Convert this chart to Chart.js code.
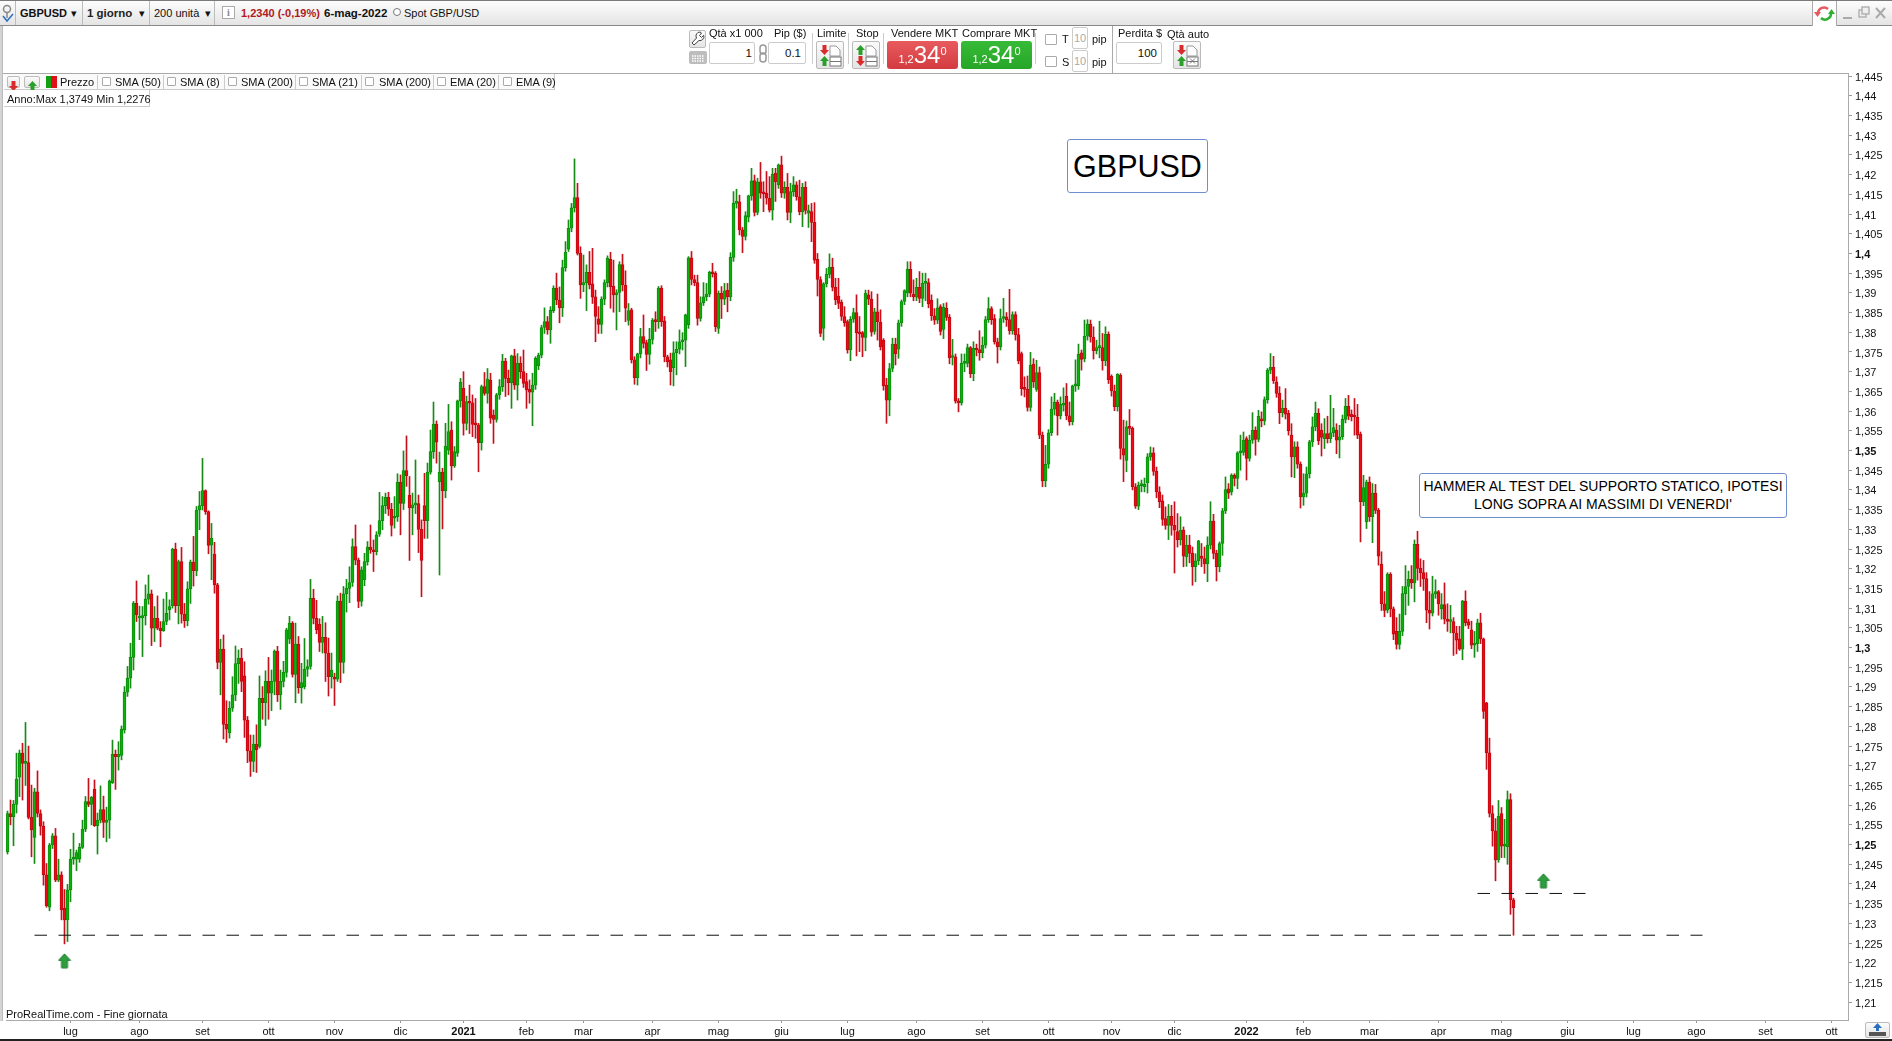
<!DOCTYPE html>
<html lang="it">
<head>
<meta charset="utf-8">
<title>GBPUSD</title>
<script src="https://cdn.jsdelivr.net/npm/chart.js@4"></script>
<style>
html,body{margin:0;padding:0;width:1892px;height:1041px;overflow:hidden;background:#fff;font-family:"Liberation Sans",Arial,sans-serif;color:#111}
#c{position:absolute;left:0;top:0;display:block}
#ui{position:absolute;left:0;top:0;width:1892px;height:1041px;pointer-events:none}
.a{position:absolute;box-sizing:border-box;white-space:nowrap}
.t{font-size:11px;line-height:14px;transform:translateY(-50%)}
.box{background:#fff;border:1px solid #ccc;border-radius:2px}
.btn{background:linear-gradient(#fbfbfb,#e4e4e4);border:1px solid #bbb;border-radius:2px}
.cb{background:#fff;border:1px solid #aaa;border-radius:1px}
.note{background:#fff;border:1px solid #6f8fd0;border-radius:3px;color:#000;text-align:center}
</style>
</head>
<body>
<canvas id="c" width="1892" height="1041"></canvas>
<div id="ui"></div>
<script>
const opens = [
1.2482,1.2579,1.2571,1.2602,1.2671,1.2732,1.2706,1.2708,1.2569,1.2518,
1.2634,1.2579,1.2547,1.2423,1.2341,1.2499,1.2522,1.2410,1.2423,1.2338,
1.2309,1.2385,1.2463,1.2463,1.2463,1.2493,1.2539,1.2609,1.2602,1.2641,
1.2548,1.2562,1.2589,1.2556,1.2562,1.2657,1.2729,1.2723,1.2726,1.2791,
1.2887,1.2922,1.2975,1.3112,1.3075,1.3075,1.3081,1.3123,1.3136,1.3049,
1.3074,1.3049,1.3043,1.3066,1.3096,1.3106,1.3250,1.3106,1.3218,1.3085,
1.3068,1.3149,1.3217,1.3195,1.3349,1.3360,1.3398,1.3345,1.3260,1.3237,
1.3159,1.2962,1.2996,1.2805,1.2784,1.2846,1.2880,1.2959,1.2973,1.2928,
1.2816,1.2738,1.2711,1.2755,1.2749,1.2871,1.2860,1.2914,1.2884,1.2914,
1.2991,1.2880,1.2914,1.2937,1.3021,1.3062,1.2932,1.3009,1.2898,1.2901,
1.2945,1.2952,1.3125,1.3074,1.3059,1.3013,1.3026,1.2986,1.2926,1.2923,
1.2920,1.3118,1.2962,1.3136,1.3150,1.3165,1.3256,1.3222,1.3117,1.3172,
1.3218,1.3255,1.3248,1.3243,1.3288,1.3322,1.3360,1.3381,1.3351,1.3328,
1.3332,1.3419,1.3366,1.3449,1.3386,1.3354,1.3362,1.3365,1.3300,1.3360,
1.3322,1.3445,1.3497,1.3567,1.3421,1.3445,1.3398,1.3501,1.3552,1.3461,
1.3493,1.3626,1.3658,1.3569,1.3624,1.3621,1.3568,1.3565,1.3520,1.3662,
1.3645,1.3679,1.3590,1.3579,1.3641,1.3662,1.3727,1.3683,1.3672,1.3740,
1.3666,1.3721,1.3700,1.3675,1.3655,1.3648,1.3666,1.3715,1.3742,1.3812,
1.3827,1.3806,1.3855,1.3912,1.3882,1.3862,1.3964,1.4011,1.4064,1.4116,
1.4142,1.4000,1.3920,1.3926,1.3952,1.3923,1.3890,1.3834,1.3820,1.3884,
1.3926,1.3985,1.3917,1.3895,1.3901,1.3972,1.3920,1.3830,1.3857,1.3730,
1.3685,1.3745,1.3789,1.3774,1.3744,1.3782,1.3831,1.3827,1.3912,1.3829,
1.3738,1.3730,1.3710,1.3748,1.3757,1.3776,1.3780,1.3819,1.3989,1.3934,
1.3926,1.3835,1.3875,1.3890,1.3897,1.3952,1.3950,1.3810,1.3899,1.3884,
1.3907,1.3890,1.3990,1.4127,1.4131,1.4060,1.4043,1.4092,1.4146,1.4185,
1.4104,1.4182,1.4154,1.4153,1.4140,1.4110,1.4203,1.4174,1.4225,1.4153,
1.4168,1.4104,1.4157,1.4174,1.4144,1.4106,1.4168,1.4102,1.4106,1.4079,
1.3985,1.3934,1.3810,1.3923,1.3947,1.3965,1.3914,1.3892,1.3876,1.3840,
1.3827,1.3755,1.3833,1.3850,1.3799,1.3799,1.3787,1.3895,1.3884,1.3802,
1.3852,1.3825,1.3780,1.3666,1.3628,1.3708,1.3770,1.3757,1.3824,1.3878,
1.3900,1.3960,1.3897,1.3889,1.3914,1.3886,1.3924,1.3926,1.3882,1.3842,
1.3831,1.3865,1.3807,1.3861,1.3838,1.3736,1.3738,1.3625,1.3621,1.3721,
1.3721,1.3761,1.3695,1.3759,1.3756,1.3748,1.3767,1.3832,1.3860,1.3835,
1.3776,1.3763,1.3835,1.3839,1.3832,1.3804,1.3845,1.3794,1.3746,1.3657,
1.3655,1.3609,1.3719,1.3655,1.3698,1.3539,1.3423,1.3465,1.3545,1.3605,
1.3622,1.3588,1.3615,1.3638,1.3588,1.3573,1.3664,1.3664,1.3748,1.3733,
1.3790,1.3821,1.3788,1.3753,1.3761,1.3761,1.3727,1.3795,1.3688,1.3651,
1.3611,1.3691,1.3505,1.3475,1.3560,1.3556,1.3408,1.3359,1.3411,1.3408,
1.3418,1.3484,1.3494,1.3447,1.3395,1.3372,1.3327,1.3310,1.3333,1.3310,
1.3294,1.3274,1.3298,1.3230,1.3260,1.3240,1.3205,1.3220,1.3232,1.3226,
1.3212,1.3260,1.3321,1.3239,1.3205,1.3264,1.3347,1.3403,1.3395,1.3437,
1.3429,1.3494,1.3495,1.3530,1.3480,1.3526,1.3551,1.3528,1.3579,1.3575,
1.3629,1.3704,1.3711,1.3674,1.3645,1.3596,1.3607,1.3594,1.3539,1.3484,
1.3509,1.3465,1.3382,1.3392,1.3441,1.3522,1.3560,1.3594,1.3552,1.3530,
1.3543,1.3530,1.3545,1.3552,1.3526,1.3535,1.3579,1.3612,1.3592,1.3590,
1.3584,1.3541,1.3370,1.3319,1.3420,1.3332,1.3392,1.3348,1.3212,1.3111,
1.3095,1.3186,1.3098,1.3041,1.3008,1.3041,1.3137,1.3155,1.3173,1.3164,
1.3262,1.3201,1.3190,1.3175,1.3095,1.3087,1.3136,1.3142,1.3098,1.3109,
1.3072,1.3066,1.3066,1.3037,1.3022,1.2996,1.3118,1.3066,1.3045,1.3006,
1.3010,1.3063,1.3022,1.2860,1.2733,1.2579,1.2535,1.2461,1.2579,1.2496,
1.2495,1.2614,1.2360];
const closes = [
1.2579,1.2571,1.2602,1.2666,1.2732,1.2706,1.2708,1.2569,1.2537,1.2634,
1.2579,1.2547,1.2423,1.2345,1.2499,1.2522,1.2410,1.2423,1.2334,1.2309,
1.2385,1.2463,1.2464,1.2480,1.2493,1.2539,1.2609,1.2602,1.2620,1.2548,
1.2562,1.2589,1.2556,1.2562,1.2661,1.2729,1.2723,1.2729,1.2793,1.2887,
1.2922,1.2975,1.3112,1.3083,1.3079,1.3081,1.3123,1.3136,1.3049,1.3074,
1.3049,1.3043,1.3066,1.3087,1.3104,1.3250,1.3106,1.3218,1.3085,1.3068,
1.3149,1.3217,1.3195,1.3349,1.3360,1.3398,1.3345,1.3259,1.3277,1.3159,
1.2962,1.2996,1.2805,1.2793,1.2846,1.2880,1.2959,1.2973,1.2914,1.2816,
1.2738,1.2711,1.2755,1.2740,1.2871,1.2860,1.2914,1.2884,1.2914,1.2991,
1.2880,1.2914,1.2937,1.3045,1.3062,1.2932,1.3009,1.2898,1.2911,1.2945,
1.2952,1.3125,1.3074,1.3045,1.3013,1.3026,1.2986,1.2926,1.2943,1.2920,
1.3118,1.2962,1.3136,1.3150,1.3165,1.3256,1.3222,1.3117,1.3197,1.3218,
1.3255,1.3248,1.3243,1.3286,1.3322,1.3360,1.3381,1.3351,1.3310,1.3332,
1.3419,1.3366,1.3449,1.3436,1.3354,1.3362,1.3365,1.3300,1.3221,1.3322,
1.3445,1.3497,1.3567,1.3521,1.3445,1.3398,1.3511,1.3548,1.3461,1.3497,
1.3626,1.3673,1.3569,1.3624,1.3620,1.3566,1.3565,1.3520,1.3662,1.3645,
1.3681,1.3582,1.3579,1.3641,1.3662,1.3727,1.3683,1.3672,1.3740,1.3666,
1.3721,1.3700,1.3670,1.3654,1.3648,1.3666,1.3734,1.3742,1.3812,1.3827,
1.3806,1.3856,1.3912,1.3882,1.3862,1.3964,1.4003,1.4064,1.4116,1.4142,
1.4000,1.3920,1.3926,1.3952,1.3920,1.3889,1.3840,1.3820,1.3884,1.3926,
1.3988,1.3916,1.3895,1.3901,1.3972,1.3920,1.3861,1.3855,1.3730,1.3685,
1.3745,1.3789,1.3772,1.3744,1.3782,1.3831,1.3827,1.3912,1.3827,1.3738,
1.3725,1.3700,1.3748,1.3757,1.3776,1.3780,1.3844,1.3989,1.3934,1.3926,
1.3835,1.3875,1.3890,1.3897,1.3952,1.3948,1.3814,1.3899,1.3884,1.3905,
1.3890,1.3990,1.4127,1.4133,1.4060,1.4043,1.4096,1.4146,1.4184,1.4104,
1.4182,1.4153,1.4151,1.4140,1.4110,1.4201,1.4182,1.4225,1.4153,1.4168,
1.4104,1.4157,1.4174,1.4144,1.4106,1.4168,1.4109,1.4109,1.4079,1.3983,
1.3934,1.3797,1.3923,1.3947,1.3965,1.3914,1.3882,1.3873,1.3840,1.3824,
1.3755,1.3833,1.3850,1.3799,1.3796,1.3787,1.3899,1.3884,1.3800,1.3852,
1.3827,1.3763,1.3664,1.3628,1.3708,1.3770,1.3746,1.3824,1.3878,1.3906,
1.3960,1.3899,1.3890,1.3914,1.3886,1.3924,1.3926,1.3872,1.3842,1.3831,
1.3862,1.3802,1.3863,1.3838,1.3735,1.3738,1.3625,1.3621,1.3721,1.3722,
1.3761,1.3695,1.3759,1.3755,1.3748,1.3767,1.3832,1.3860,1.3832,1.3776,
1.3763,1.3835,1.3838,1.3832,1.3804,1.3845,1.3793,1.3727,1.3657,1.3655,
1.3609,1.3717,1.3674,1.3698,1.3539,1.3423,1.3465,1.3545,1.3605,1.3622,
1.3588,1.3617,1.3617,1.3588,1.3573,1.3664,1.3666,1.3744,1.3731,1.3790,
1.3821,1.3788,1.3753,1.3761,1.3762,1.3727,1.3795,1.3680,1.3651,1.3611,
1.3693,1.3505,1.3488,1.3560,1.3556,1.3408,1.3359,1.3412,1.3412,1.3414,
1.3484,1.3494,1.3447,1.3395,1.3370,1.3325,1.3310,1.3333,1.3310,1.3298,
1.3274,1.3298,1.3232,1.3260,1.3239,1.3205,1.3220,1.3271,1.3226,1.3212,
1.3260,1.3321,1.3239,1.3205,1.3264,1.3347,1.3401,1.3392,1.3437,1.3429,
1.3494,1.3495,1.3526,1.3480,1.3526,1.3551,1.3528,1.3587,1.3575,1.3629,
1.3704,1.3711,1.3677,1.3645,1.3596,1.3607,1.3592,1.3550,1.3484,1.3509,
1.3465,1.3382,1.3392,1.3441,1.3522,1.3560,1.3594,1.3525,1.3533,1.3543,
1.3530,1.3545,1.3558,1.3526,1.3535,1.3579,1.3612,1.3587,1.3585,1.3585,
1.3539,1.3370,1.3406,1.3420,1.3332,1.3392,1.3348,1.3232,1.3111,1.3094,
1.3186,1.3098,1.3034,1.3008,1.3041,1.3137,1.3155,1.3173,1.3164,1.3262,
1.3201,1.3190,1.3174,1.3095,1.3087,1.3136,1.3142,1.3111,1.3109,1.3072,
1.3066,1.3067,1.3037,1.3019,1.2996,1.3118,1.3063,1.3057,1.3006,1.3010,
1.3063,1.3022,1.2838,1.2733,1.2579,1.2535,1.2461,1.2572,1.2496,1.2497,
1.2614,1.2360,1.2340];
const highs = [
1.2585,1.2613,1.2612,1.2732,1.2740,1.2757,1.2810,1.2750,1.2651,1.2643,
1.2687,1.2588,1.2558,1.2452,1.2503,1.2528,1.2541,1.2463,1.2431,1.2386,
1.2399,1.2488,1.2529,1.2486,1.2503,1.2562,1.2622,1.2668,1.2622,1.2664,
1.2580,1.2649,1.2623,1.2595,1.2664,1.2765,1.2740,1.2761,1.2801,1.2901,
1.2952,1.3011,1.3117,1.3169,1.3105,1.3104,1.3159,1.3184,1.3146,1.3104,
1.3131,1.3066,1.3123,1.3140,1.3121,1.3252,1.3265,1.3222,1.3254,1.3112,
1.3167,1.3222,1.3282,1.3358,1.3396,1.3480,1.3400,1.3347,1.3315,1.3267,
1.3163,1.3021,1.3032,1.2865,1.2863,1.2926,1.3004,1.2994,1.2998,1.2964,
1.2825,1.2778,1.2778,1.2804,1.2928,1.2901,1.2941,1.2975,1.2943,1.2994,
1.3003,1.2943,1.2965,1.3049,1.3079,1.3066,1.3062,1.3028,1.2960,1.3023,
1.2969,1.3173,1.3148,1.3120,1.3073,1.3079,1.3063,1.3024,1.2986,1.2935,
1.3131,1.3138,1.3155,1.3173,1.3205,1.3276,1.3311,1.3227,1.3205,1.3239,
1.3269,1.3311,1.3273,1.3294,1.3394,1.3383,1.3392,1.3394,1.3366,1.3383,
1.3441,1.3438,1.3499,1.3537,1.3434,1.3392,1.3476,1.3387,1.3324,1.3442,
1.3468,1.3552,1.3623,1.3575,1.3496,1.3455,1.3569,1.3617,1.3573,1.3510,
1.3628,1.3683,1.3700,1.3638,1.3666,1.3641,1.3632,1.3569,1.3666,1.3698,
1.3708,1.3696,1.3603,1.3645,1.3680,1.3744,1.3734,1.3704,1.3742,1.3757,
1.3746,1.3738,1.3755,1.3696,1.3679,1.3696,1.3738,1.3747,1.3818,1.3862,
1.3840,1.3865,1.3918,1.3950,1.3915,1.3983,1.4030,1.4085,1.4127,1.4240,
1.4178,1.4017,1.3996,1.3971,1.4005,1.4013,1.3907,1.3865,1.3890,1.3933,
1.3994,1.4003,1.3983,1.3908,1.3979,1.3998,1.3956,1.3873,1.3861,1.3738,
1.3747,1.3810,1.3844,1.3780,1.3810,1.3835,1.3852,1.3916,1.3918,1.3840,
1.3742,1.3747,1.3776,1.3776,1.3806,1.3799,1.3846,1.3992,1.4005,1.3945,
1.3945,1.3890,1.3926,1.3924,1.3955,1.3975,1.3954,1.3905,1.3916,1.3924,
1.3924,1.4002,1.4157,1.4163,1.4148,1.4066,1.4106,1.4148,1.4216,1.4199,
1.4191,1.4231,1.4182,1.4208,1.4195,1.4216,1.4216,1.4227,1.4247,1.4182,
1.4203,1.4178,1.4195,1.4182,1.4186,1.4178,1.4182,1.4123,1.4127,1.4129,
1.4000,1.3941,1.3926,1.3962,1.3999,1.3988,1.3937,1.3937,1.3882,1.3865,
1.3831,1.3840,1.3861,1.3895,1.3840,1.3802,1.3907,1.3907,1.3903,1.3861,
1.3897,1.3857,1.3784,1.3683,1.3721,1.3785,1.3785,1.3831,1.3882,1.3908,
1.3979,1.3979,1.3933,1.3937,1.3954,1.3950,1.3950,1.3936,1.3895,1.3860,
1.3885,1.3870,1.3873,1.3875,1.3845,1.3782,1.3745,1.3632,1.3745,1.3745,
1.3770,1.3764,1.3776,1.3770,1.3804,1.3788,1.3840,1.3888,1.3865,1.3845,
1.3785,1.3859,1.3886,1.3850,1.3909,1.3852,1.3852,1.3810,1.3750,1.3687,
1.3689,1.3749,1.3733,1.3729,1.3712,1.3547,1.3513,1.3553,1.3636,1.3645,
1.3628,1.3636,1.3659,1.3670,1.3623,1.3666,1.3730,1.3770,1.3755,1.3831,
1.3832,1.3831,1.3814,1.3780,1.3828,1.3797,1.3814,1.3801,1.3692,1.3666,
1.3695,1.3695,1.3577,1.3575,1.3604,1.3560,1.3416,1.3420,1.3425,1.3430,
1.3492,1.3509,1.3507,1.3458,1.3408,1.3387,1.3357,1.3363,1.3361,1.3370,
1.3340,1.3332,1.3306,1.3285,1.3285,1.3255,1.3238,1.3272,1.3264,1.3255,
1.3281,1.3370,1.3338,1.3247,1.3268,1.3353,1.3433,1.3416,1.3441,1.3441,
1.3497,1.3539,1.3547,1.3535,1.3539,1.3596,1.3560,1.3602,1.3598,1.3636,
1.3708,1.3746,1.3739,1.3687,1.3662,1.3628,1.3657,1.3602,1.3568,1.3522,
1.3522,1.3471,1.3441,1.3458,1.3526,1.3585,1.3623,1.3606,1.3568,1.3581,
1.3587,1.3640,1.3607,1.3568,1.3564,1.3590,1.3632,1.3640,1.3603,1.3632,
1.3617,1.3547,1.3437,1.3425,1.3433,1.3416,1.3414,1.3353,1.3243,1.3142,
1.3190,1.3190,1.3103,1.3076,1.3085,1.3155,1.3208,1.3194,1.3208,1.3273,
1.3295,1.3225,1.3221,1.3190,1.3142,1.3181,1.3172,1.3145,1.3137,1.3164,
1.3111,1.3107,1.3076,1.3054,1.3054,1.3120,1.3144,1.3072,1.3067,1.3041,
1.3072,1.3087,1.3024,1.2861,1.2770,1.2599,1.2566,1.2612,1.2594,1.2564,
1.2636,1.2629,1.2364];
const lows = [
1.2476,1.2550,1.2497,1.2580,1.2622,1.2613,1.2650,1.2565,1.2469,1.2452,
1.2570,1.2524,1.2397,1.2341,1.2332,1.2490,1.2406,1.2406,1.2309,1.2248,
1.2254,1.2355,1.2450,1.2434,1.2455,1.2490,1.2533,1.2596,1.2550,1.2546,
1.2476,1.2555,1.2518,1.2507,1.2516,1.2655,1.2640,1.2689,1.2715,1.2783,
1.2876,1.2897,1.2943,1.3066,1.3020,1.2977,1.3057,1.3110,1.3005,1.3015,
1.3045,1.3002,1.3041,1.3058,1.3070,1.3100,1.3089,1.3060,1.3062,1.3051,
1.3055,1.3112,1.3156,1.3182,1.3299,1.3349,1.3338,1.3238,1.3172,1.3138,
1.2946,1.2880,1.2768,1.2759,1.2770,1.2838,1.2865,1.2909,1.2888,1.2772,
1.2708,1.2673,1.2685,1.2683,1.2745,1.2818,1.2802,1.2818,1.2840,1.2880,
1.2863,1.2843,1.2900,1.2925,1.3010,1.2925,1.2860,1.2884,1.2859,1.2895,
1.2927,1.2945,1.3060,1.3035,1.2990,1.2986,1.2914,1.2877,1.2897,1.2853,
1.2914,1.2911,1.2935,1.3090,1.3114,1.3155,1.3210,1.3101,1.3105,1.3157,
1.3209,1.3239,1.3193,1.3235,1.3282,1.3299,1.3340,1.3335,1.3283,1.3303,
1.3320,1.3286,1.3350,1.3409,1.3221,1.3286,1.3340,1.3241,1.3129,1.3277,
1.3277,1.3440,1.3480,1.3468,1.3184,1.3301,1.3380,1.3490,1.3425,1.3457,
1.3485,1.3610,1.3539,1.3552,1.3543,1.3535,1.3531,1.3446,1.3501,1.3640,
1.3620,1.3569,1.3518,1.3572,1.3630,1.3650,1.3637,1.3641,1.3607,1.3655,
1.3628,1.3683,1.3660,1.3607,1.3620,1.3563,1.3655,1.3705,1.3735,1.3797,
1.3795,1.3772,1.3850,1.3870,1.3824,1.3840,1.3955,1.4005,1.4055,1.4105,
1.3996,1.3886,1.3903,1.3855,1.3910,1.3873,1.3776,1.3797,1.3797,1.3870,
1.3915,1.3861,1.3851,1.3806,1.3852,1.3905,1.3827,1.3818,1.3722,1.3668,
1.3666,1.3735,1.3760,1.3703,1.3719,1.3770,1.3802,1.3810,1.3815,1.3725,
1.3712,1.3666,1.3664,1.3692,1.3745,1.3755,1.3713,1.3810,1.3920,1.3918,
1.3818,1.3828,1.3868,1.3880,1.3890,1.3940,1.3802,1.3797,1.3835,1.3870,
1.3852,1.3880,1.3980,1.4115,1.4047,1.4002,1.4034,1.4080,1.4135,1.4095,
1.4098,1.4140,1.4106,1.4125,1.4105,1.4085,1.4132,1.4165,1.4142,1.4140,
1.4085,1.4078,1.4145,1.4135,1.4098,1.4068,1.4100,1.4066,1.4030,1.3975,
1.3892,1.3789,1.3780,1.3915,1.3938,1.3905,1.3870,1.3860,1.3830,1.3815,
1.3747,1.3728,1.3825,1.3740,1.3751,1.3738,1.3753,1.3870,1.3790,1.3795,
1.3780,1.3755,1.3653,1.3569,1.3588,1.3700,1.3717,1.3734,1.3815,1.3870,
1.3890,1.3890,1.3880,1.3880,1.3875,1.3865,1.3880,1.3862,1.3830,1.3820,
1.3822,1.3793,1.3784,1.3830,1.3720,1.3717,1.3620,1.3598,1.3615,1.3700,
1.3712,1.3685,1.3677,1.3740,1.3729,1.3735,1.3760,1.3825,1.3820,1.3770,
1.3722,1.3755,1.3825,1.3815,1.3795,1.3795,1.3780,1.3720,1.3640,1.3636,
1.3600,1.3600,1.3660,1.3650,1.3530,1.3408,1.3408,1.3455,1.3538,1.3590,
1.3539,1.3580,1.3600,1.3578,1.3564,1.3565,1.3650,1.3655,1.3704,1.3725,
1.3780,1.3775,1.3732,1.3745,1.3735,1.3704,1.3715,1.3670,1.3638,1.3601,
1.3600,1.3478,1.3421,1.3446,1.3540,1.3400,1.3353,1.3350,1.3395,1.3395,
1.3392,1.3475,1.3437,1.3380,1.3355,1.3310,1.3300,1.3274,1.3285,1.3189,
1.3255,1.3260,1.3205,1.3206,1.3215,1.3158,1.3167,1.3210,1.3205,1.3188,
1.3167,1.3250,1.3225,1.3169,1.3192,1.3234,1.3340,1.3378,1.3387,1.3410,
1.3403,1.3450,1.3488,1.3425,1.3473,1.3518,1.3488,1.3522,1.3560,1.3565,
1.3620,1.3695,1.3670,1.3635,1.3568,1.3585,1.3580,1.3539,1.3433,1.3431,
1.3455,1.3354,1.3361,1.3382,1.3430,1.3510,1.3550,1.3515,1.3486,1.3505,
1.3519,1.3520,1.3535,1.3492,1.3481,1.3528,1.3570,1.3578,1.3575,1.3539,
1.3530,1.3268,1.3360,1.3302,1.3320,1.3266,1.3340,1.3209,1.3094,1.3078,
1.3088,1.3078,1.3020,1.2996,1.2996,1.3030,1.3083,1.3107,1.3150,1.3116,
1.3171,1.3155,1.3145,1.3063,1.3047,1.3080,1.3125,1.3082,1.3072,1.3060,
1.3041,1.3037,1.2980,1.2984,1.2993,1.2969,1.3055,1.3048,1.2997,1.2975,
1.2990,1.3010,1.2820,1.2691,1.2570,1.2496,1.2408,1.2455,1.2467,1.2467,
1.2450,1.2323,1.2270];

const monthLabels = ['lug','ago','set','ott','nov','dic','2021','feb','mar','apr','mag','giu','lug','ago','set','ott','nov','dic','2022','feb','mar','apr','mag','giu','lug','ago','set','ott'];
const monthBars = [21,44,65,87,109,131,152,173,192,215,237,258,280,303,325,347,368,389,413,432,454,477,498,520,542,563,586,608];
const boldXLabels = ['2021','2022'];
const priceTicks = [1.21,1.215,1.22,1.225,1.23,1.235,1.24,1.245,1.25,1.255,1.26,1.265,1.27,1.275,1.28,1.285,1.29,1.295,1.3,1.305,1.31,1.315,1.32,1.325,1.33,1.335,1.34,1.345,1.35,1.355,1.36,1.365,1.37,1.375,1.38,1.385,1.39,1.395,1.4,1.405,1.41,1.415,1.42,1.425,1.43,1.435,1.44,1.445];
const boldPriceTicks = [1.25,1.3,1.35,1.4];
const supportPrice = 1.2270, supportFromBar = 9, supportToBar = 565;
const resistancePrice = 1.2376, resistanceFromBar = 490, resistanceToBar = 526;
const arrowBars = [19,512];
const arrowPrices = [1.2205,1.2408];
const slotCount = 614;

/* ---------- chart ---------- */
const categories = Array.from({length:slotCount},(_, i)=>{const k=monthBars.indexOf(i);return k>=0?monthLabels[k]:'';});
const isUp = opens.map((o,i)=>closes[i]>=o);
const sparse = (a,b,v)=>{const d=new Array(slotCount).fill(null);d[a]=v;d[b]=v;return d;};
const level = (data)=>({type:'line',data,borderColor:'#111',borderWidth:1,borderDash:[12.5,11.5],pointRadius:0,spanGaps:true,order:0,fill:false,tension:0});

const arrowImg = document.createElement('canvas');
arrowImg.width=14;arrowImg.height=16;
(()=>{const g=arrowImg.getContext('2d');g.beginPath();g.moveTo(7,1);g.lineTo(13,7.5);g.lineTo(10,7.5);g.lineTo(10,15);g.lineTo(4,15);g.lineTo(4,7.5);g.lineTo(1,7.5);g.closePath();g.fillStyle='#2f9e3f';g.strokeStyle='#1e7f2e';g.lineWidth=1;g.fill();g.stroke();})();
const arrowData = new Array(slotCount).fill(null);
arrowBars.forEach((b,i)=>arrowData[b]=arrowPrices[i]);

/* keeps each bar on a whole 3-pixel slot */
const plotFrame = {id:'plotFrame',afterLayout(chart){
  const a=chart.chartArea,x=chart.scales.x,left=6,right=left+slotCount*3;
  a.left=left;a.right=right;a.width=right-left;
  x.left=left;x.right=right;x.width=right-left;x.configure();
}};

new Chart(document.getElementById('c'),{
  plugins:[plotFrame],
  data:{labels:categories,datasets:[
    level(sparse(supportFromBar,supportToBar,supportPrice)),
    level(sparse(resistanceFromBar,resistanceToBar,resistancePrice)),
    {type:'line',data:arrowData,showLine:false,pointStyle:arrowImg,pointRadius:8,order:0},
    {type:'bar',data:opens.map((o,i)=>[o,closes[i]]),grouped:false,barThickness:3,minBarLength:2,
     backgroundColor:isUp.map(u=>u?'#0cb00c':'#f00812'),borderColor:isUp.map(u=>u?'#0b8f0b':'#c00a12'),borderWidth:1,borderSkipped:false,order:1},
    {type:'bar',data:lows.map((l,i)=>[l,highs[i]]),grouped:false,barThickness:1,
     backgroundColor:isUp.map(u=>u?'#168c16':'#c8101c'),borderWidth:0,order:2}
  ]},
  options:{
    responsive:false,animation:false,devicePixelRatio:1,
    layout:{padding:{left:6,top:73,right:0,bottom:0}},
    plugins:{legend:{display:false},tooltip:{enabled:false},title:{display:false}},
    scales:{
      x:{type:'category',offset:true,
        grid:{display:true,drawOnChartArea:false,drawTicks:true,tickLength:3,tickColor:'#999',offset:false},
        border:{display:true,color:'#aaa',width:1},
        afterBuildTicks:s=>{s.ticks=monthBars.map(value=>({value}));},
        afterFit:s=>{s.height=21;s.paddingLeft=0;s.paddingRight=0;},
        ticks:{autoSkip:false,maxRotation:0,minRotation:0,padding:2,color:'#111',
          callback(v){return categories[v];},
          font:c=>({family:'"Liberation Sans",Arial,sans-serif',size:11,weight:c.tick&&boldXLabels.includes(c.tick.label)?'bold':'normal'})}
      },
      y:{type:'linear',position:'right',min:1.20549,max:1.44579,
        grid:{display:true,drawOnChartArea:false,drawTicks:true,tickLength:4,tickColor:'#999'},
        border:{display:true,color:'#aaa',width:1},
        afterBuildTicks:s=>{s.ticks=priceTicks.map(value=>({value}));},
        afterFit:s=>{s.width=44;s.paddingTop=0;s.paddingBottom=0;},
        ticks:{padding:3,color:'#111',crossAlign:'near',labelOffset:1.5,
          callback(v){return String(v).replace('.',',');},
          font:c=>({family:'"Liberation Sans",Arial,sans-serif',size:11,weight:c.tick&&boldPriceTicks.includes(c.tick.value)?'bold':'normal'})}
      }
    }
  }
});

/* ---------- application chrome (real text) ---------- */
const ui=document.getElementById('ui');
function el(x,y,w,h,cls,css,html){const d=document.createElement('div');d.className='a '+(cls||'');d.style.cssText=`left:${x}px;top:${y}px;`+(w!=null?`width:${w}px;`:'')+(h!=null?`height:${h}px;`:'')+(css||'');if(html!=null)d.innerHTML=html;ui.appendChild(d);return d;}
function txt(x,yc,s,css){const d=el(x,yc,null,null,'t',css||'',s);return d;}
const arrowUp=(c)=>`<path d="M4.5 0L9 5H6.5V10H2.5V5H0Z" fill="${c}"/>`;
const arrowDn=(c)=>`<path d="M2.5 0H6.5V5H9L4.5 10L0 5H2.5Z" fill="${c}"/>`;
function orderIcon(top,bot,extra){return `<svg width="26" height="24" style="position:absolute;left:1px;top:2px"><g transform="translate(2,1)">${top}</g><g transform="translate(2,12)">${bot}</g><path d="M12 2h6l4 4v6h-10z" fill="#fff" stroke="#999"/><rect x="12" y="13" width="11" height="9" fill="#fff" stroke="#777"/><path d="M12 17.5h11" stroke="#777"/>${extra||''}</svg>`;}

/* top bar */
el(0,0,1892,26,'','background:linear-gradient(#fdfdfd,#e4e4e4);border-top:1px solid #7a7a7a;border-bottom:1px solid #8a8a8a');
el(2,3,12,20,'','',`<svg width="12" height="20"><circle cx="5" cy="6" r="3.5" fill="none" stroke="#888" stroke-width="1.5"/><path d="M5 9v6" stroke="#888" stroke-width="1.5"/><path d="M1 13l4 5 6-7" fill="none" stroke="#2a6fc0" stroke-width="1.5"/></svg>`);
[15,82,149,214].forEach(x=>el(x,1,1,24,'','background:#bbb'));
txt(20,13,'GBPUSD','font-weight:bold;font-size:11px');
txt(71,13,'▾','font-size:11px');
txt(87,13,'1 giorno','font-size:11.5px;font-weight:bold;color:#222');
txt(139,13,'▾','font-size:11px');
txt(154,13,'200 unità','font-size:11px');
txt(205,13,'▾','font-size:11px');
el(222,6,13,13,'','background:#fff;border:1px solid #aaa;text-align:center;font:bold 10px/12px "Liberation Serif",serif;color:#888','i');
txt(241,13,'1,2340 (-0,19%)','font-weight:bold;color:#b01822;font-size:11px');
txt(324,13,'6-mag-2022','font-weight:bold;font-size:11.5px');
el(393,8,8,8,'','border:1px solid #777;border-radius:50%;background:#fff');
txt(404,13,'Spot GBP/USD','font-size:11px');
el(1812,1,25,25,'','background:#fff;border-left:1px solid #aaa;border-right:1px solid #aaa',`<svg width="23" height="24"><path d="M5 12a6 6 0 0 1 10-4" fill="none" stroke="#e8585e" stroke-width="2.5"/><path d="M1 11h7l-3.5 5z" fill="#e8585e"/><path d="M18 12a6 6 0 0 1-10 5" fill="none" stroke="#30b030" stroke-width="2.5"/><path d="M15 13h7l-3.5-5z" fill="#30b030"/></svg>`);
el(1842,1,48,24,'','',`<svg width="48" height="24"><path d="M1 17h9" stroke="#aaa" stroke-width="2"/><rect x="17" y="9" width="7" height="7" fill="none" stroke="#aaa" stroke-width="1.3"/><rect x="20" y="6" width="7" height="7" fill="#eee" stroke="#aaa" stroke-width="1.3"/><path d="M34 7l9 10M43 7l-9 10" stroke="#aaa" stroke-width="2"/></svg>`);

/* left strip, chart frame */
el(0,26,3,995,'','background:#d4d4d4;border-right:1px solid #bbb');
el(3,73,1846,1,'','background:#aaa');
el(0,1039,1892,2,'','background:#222');

/* trading toolbar */
el(689,30,17,18,'btn','',`<svg width="15" height="16"><path d="M10 1a4 4 0 0 0-3.5 6L2 12l2 2 5-4.5a4 4 0 0 0 4.7-5.2L11.5 6.5 9.5 4.5 11.5 2z" fill="#fff" stroke="#444"/></svg>`);
el(689,51,18,13,'','background:#bdbdbd;border-radius:2px;',`<svg width="18" height="13"><path d="M3 4h12M3 6.5h12M3 9h12" stroke="#fff" stroke-width="1.5" stroke-dasharray="1.5 1"/></svg>`);
txt(709,33,'Qtà x1 000');
el(709,42,46,22,'box','text-align:right;font-size:11.5px;line-height:20px;padding-right:2px','1');
el(757,44,12,20,'','',`<svg width="12" height="20"><rect x="3" y="1" width="6" height="9" rx="3" fill="none" stroke="#999" stroke-width="1.5"/><rect x="3" y="9" width="6" height="9" rx="3" fill="none" stroke="#999" stroke-width="1.5"/></svg>`);
txt(774,33,'Pip ($)');
el(768,42,38,22,'box','text-align:right;font-size:11.5px;line-height:20px;padding-right:4px','0.1');
[812,848,883,1035].forEach(x=>el(x,33,1,31,'','background:#ccc'));
txt(817,33,'Limite');
el(816,41,28,28,'btn','',orderIcon(arrowDn('#d82c2c'),arrowUp('#2aa02a')));
txt(856,33,'Stop');
el(852,41,28,28,'btn','',orderIcon(arrowUp('#2aa02a'),arrowDn('#d82c2c')));
txt(891,33,'Vendere MKT');
const price=`<span style="font-size:11px">1,2</span><span style="font-size:24px">34</span><span style="font-size:11px;position:relative;top:-8px">0</span>`;
el(887,41,71,28,'','background:linear-gradient(#e85a5e,#d33c40);border-radius:3px;color:#fff;text-align:center;line-height:27px',price);
txt(962,33,'Comprare MKT');
el(961,41,71,28,'','background:linear-gradient(#37bb37,#27a527);border-radius:3px;color:#fff;text-align:center;line-height:27px',price);
el(1045,34,12,11,'cb');
txt(1062,39,'T');
el(1072,27,16,22,'box','text-align:center;color:#aaa;font-size:11px;line-height:20px','10');
txt(1092,39,'pip');
el(1045,56,12,11,'cb');
txt(1062,62,'S');
el(1072,50,16,22,'box','text-align:center;color:#aaa;font-size:11px;line-height:20px','10');
txt(1092,62,'pip');
el(1112,26,1,47,'','background:#aaa');
txt(1118,33,'Perdita $');
el(1116,42,46,22,'box','text-align:right;font-size:11.5px;line-height:20px;padding-right:4px','100');
txt(1167,34,'Qtà auto');
el(1173,41,28,28,'btn','',orderIcon(arrowDn('#d82c2c'),arrowUp('#2aa02a'),'<path d="M15 14.5l5 5M20 14.5l-5 5" stroke="#777"/>'));

/* indicator legend */
el(4,74,551,16,'','background:#fafafa;border-bottom:1px solid #ccc;border-right:1px solid #ccc');
el(7,76,13,12,'btn','',`<svg width="11" height="10"><g transform="translate(1,0)">${arrowDn('#d82c2c')}</g></svg>`);
el(24,76,16,12,'btn','',`<svg width="14" height="10"><g transform="translate(3,0)">${arrowUp('#2aa02a')}</g></svg>`);
el(46,76,5,12,'','background:#12a012');
el(51,76,6,12,'','background:#e01018');
txt(60,82,'Prezzo');
const legendRows=[[97,102,115,'SMA (50)'],[163,167,180,'SMA (8)'],[224,228,241,'SMA (200)'],[295,299,312,'SMA (21)'],[361,365,379,'SMA (200)'],[433,437,450,'EMA (20)'],[498,503,516,'EMA (9)']];
legendRows.forEach(([d,b,t,s])=>{el(d,75,1,15,'','background:#ccc');el(b,77,9,9,'cb','border-color:#aaa');txt(t,82,s);});
el(4,90,146,17,'','background:#fff;border-bottom:1px solid #ccc;border-right:1px solid #ccc');
txt(7,99,'Anno:Max 1,3749 Min 1,2276');

/* annotations */
el(1067,139,141,54,'note','font-size:30.5px;line-height:52px','GBPUSD');
el(1419,473,368,45,'note','font-size:14px;line-height:17.5px;padding-top:4px;white-space:normal','HAMMER AL TEST DEL SUPPORTO STATICO, IPOTESI<br>LONG SOPRA AI MASSIMI DI VENERDI\'');
txt(6,1014,'ProRealTime.com - Fine giornata');

/* lower-right button */
el(1865,1022,25,16,'btn','',`<svg width="23" height="14"><path d="M11.5 0L16 5H13V8H10V5H7Z" fill="#2a6fc0"/><rect x="3" y="9" width="17" height="4" fill="#555"/></svg>`);
</script>
</body>
</html>
